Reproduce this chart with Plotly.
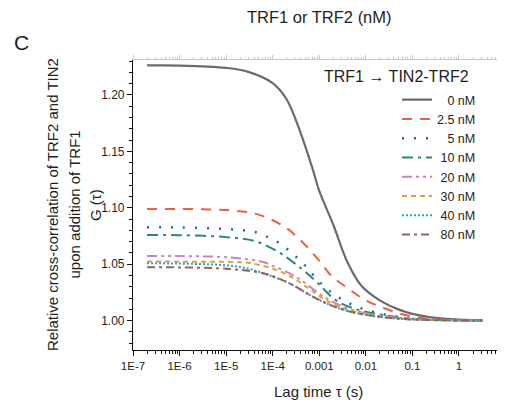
import plotly.graph_objects as go

# ---------------- data ----------------
series_names = ["0 nM", "2.5 nM", "5 nM", "10 nM", "20 nM", "30 nM", "40 nM", "80 nM"]

tau_0 = [2e-7, 1e-6, 1e-5, 3e-5, 1e-4, 2e-4, 4e-4, 7e-4, 1e-3, 2e-3, 4e-3, 8e-3, 2e-2, 5e-2, 0.1, 0.25, 1, 3.2]
g_0 = [1.2262, 1.2261, 1.2240, 1.2205, 1.2105, 1.1960, 1.1660, 1.1360, 1.1150, 1.0850, 1.0520, 1.0310,
       1.0180, 1.0100, 1.0060, 1.0030, 1.0010, 1.0005]

tau_2_5 = [2e-7, 1e-6, 1e-5, 4e-5, 1e-4, 2.3e-4, 5e-4, 1e-3, 1.8e-3, 4e-3, 1e-2, 2.5e-2, 7e-2, 0.2, 1, 3.2]
g_2_5 = [1.0990, 1.0990, 1.0980, 1.0950, 1.0890, 1.0800, 1.0670, 1.0530, 1.0400, 1.0290, 1.0180, 1.0110,
         1.0050, 1.0020, 1.0005, 1.0000]

tau_5 = [2e-7, 1e-6, 1.2e-5, 2.5e-5, 4.6e-5, 7.9e-5, 1.36e-4, 2.1e-4, 3.3e-4, 5.2e-4, 7.6e-4, 1.17e-3,
         1.83e-3, 3e-3, 5.2e-3, 9.5e-3, 2.5e-2, 7e-2, 0.3, 1, 3.2]
g_5 = [1.0828, 1.0827, 1.0810, 1.0800, 1.0780, 1.0740, 1.0690, 1.0630, 1.0560, 1.0480, 1.0400, 1.0320,
       1.0250, 1.0190, 1.0140, 1.0100, 1.0055, 1.0025, 1.0010, 1.0003, 1.0000]

tau_10 = [2e-7, 1e-6, 1.2e-5, 4.2e-5, 1.3e-4, 3.5e-4, 8.7e-4, 2.3e-3, 6.3e-3, 2e-2, 6e-2, 0.2, 1, 3.2]
g_10 = [1.0760, 1.0758, 1.0738, 1.0705, 1.0610, 1.0485, 1.0345, 1.0180, 1.0100, 1.0055, 1.0025, 1.0010,
        1.0003, 1.0000]

tau_20 = [2e-7, 1e-6, 1.2e-5, 6.2e-5, 1e-4, 2.3e-4, 4.2e-4, 8.7e-4, 1.7e-3, 3.5e-3, 1e-2, 3e-2, 0.1, 0.4, 3.2]
g_20 = [1.0573, 1.0572, 1.0560, 1.0520, 1.0485, 1.0420, 1.0354, 1.0257, 1.0180, 1.0120, 1.0065, 1.0035,
        1.0015, 1.0005, 1.0000]

tau_30 = [2e-7, 1e-6, 1.2e-5, 3.2e-5, 1.2e-4, 3.2e-4, 7.4e-4, 1.4e-3, 3.2e-3, 1e-2, 3e-2, 0.1, 0.4, 3.2]
g_30 = [1.0524, 1.0523, 1.0520, 1.0510, 1.0450, 1.0360, 1.0257, 1.0180, 1.0110, 1.0060, 1.0030, 1.0012,
        1.0004, 1.0000]

tau_40 = [2e-7, 1e-6, 1.2e-5, 3.2e-5, 8.7e-5, 2.3e-4, 6.3e-4, 1.7e-3, 4.6e-3, 1.5e-2, 5e-2, 0.2, 1, 3.2]
g_40 = [1.0508, 1.0506, 1.0488, 1.0457, 1.0400, 1.0330, 1.0227, 1.0140, 1.0080, 1.0040, 1.0018, 1.0006,
        1.0002, 1.0000]

tau_80 = [2e-7, 1e-6, 1.2e-5, 6.2e-5, 1.4e-4, 3.2e-4, 6.3e-4, 1.7e-3, 4.6e-3, 1.5e-2, 5e-2, 0.2, 1, 3.2]
g_80 = [1.0473, 1.0472, 1.0458, 1.0420, 1.0370, 1.0300, 1.0227, 1.0140, 1.0080, 1.0040, 1.0018, 1.0006,
        1.0002, 1.0000]

x_tick_vals = [1e-7, 1e-6, 1e-5, 1e-4, 1e-3, 1e-2, 1e-1, 1]
x_tick_text = ["1E-7", "1E-6", "1E-5", "1E-4", "0.001", "0.01", "0.1", "1"]
y_tick_vals = [1.00, 1.05, 1.10, 1.15, 1.20]

# ---------------- styling ----------------
# The page body has an 8px margin, so the figure is drawn 8px smaller and all
# positions below are given in window pixels, then shifted by OFF.
OFF = 8
W, H = 505 - OFF, 400 - OFF
PLOT_L, PLOT_R, PLOT_T, PLOT_B = 133, 503, 60, 350          # window pixels
ML, MR = PLOT_L - OFF, W - (PLOT_R - OFF)
MT, MB = PLOT_T - OFF, H - (PLOT_B - OFF)
PW, PH = PLOT_R - PLOT_L, PLOT_B - PLOT_T
FONT = "Liberation Sans, Arial, Helvetica, sans-serif"
TXT = "#231f20"


def px_x(x):
    return (x - PLOT_L) / PW


def px_y(y):
    return (PLOT_B - y) / PH


styles = [
    dict(color="#6b6b6e", dash="solid", width=2.2),
    dict(color="#ee5f44", dash="10px,8px", width=2),
    dict(color="#2068ad", dash="2px,10px", width=2.5),
    dict(color="#2a8a72", dash="11px,5px,3px,5px", width=2),
    dict(color="#c087c0", dash="10px,4px,3px,4px,3px,4px", width=2),
    dict(color="#dba53a", dash="5px,4px", width=2),
    dict(color="#22a2cb", dash="2px,2px", width=2),
    dict(color="#9a6157", dash="8px,4px,3px,4px", width=2),
]

# right-align legend labels with figure / punctuation spaces
legend_labels = [
    "\u2007\u2008" + series_names[0],
    series_names[1],
    "\u2007\u2008" + series_names[2],
    "\u2008" + series_names[3],
    "\u2008" + series_names[4],
    "\u2008" + series_names[5],
    "\u2008" + series_names[6],
    "\u2008" + series_names[7],
]

taus = [tau_0, tau_2_5, tau_5, tau_10, tau_20, tau_30, tau_40, tau_80]
gs = [g_0, g_2_5, g_5, g_10, g_20, g_30, g_40, g_80]

fig = go.Figure()
for i in range(8):
    fig.add_trace(go.Scatter(
        x=taus[i], y=gs[i], mode="lines", name=legend_labels[i],
        line=dict(color=styles[i]["color"], dash=styles[i]["dash"], width=styles[i]["width"],
                  shape="spline", smoothing=1.0),
    ))

x_range = [-7, 0.945]
y_range = [0.974, 1.231]
minor_x = [m * 10 ** e for e in range(-7, 1) for m in range(2, 10)]

fig.update_layout(
    width=W, height=H,
    margin=dict(l=ML, r=MR, t=MT, b=MB, autoexpand=False),
    paper_bgcolor="white", plot_bgcolor="white",
    font=dict(family=FONT, color=TXT),
    showlegend=True,
    legend=dict(
        x=px_x(397), y=px_y(85), xanchor="left", yanchor="top",
        bgcolor="rgba(0,0,0,0)", borderwidth=0,
        font=dict(size=12.5, family=FONT, color=TXT),
        itemwidth=30, tracegroupgap=0,
    ),
    xaxis=dict(
        type="log", range=x_range, showgrid=False, zeroline=False, automargin=False,
        showline=True, linecolor="#111", linewidth=1.2,
        ticks="outside", ticklen=5, tickwidth=1, tickcolor="#111",
        tickvals=x_tick_vals, ticktext=x_tick_text,
        tickfont=dict(size=11.5, family=FONT, color=TXT),
        minor=dict(ticks="outside", ticklen=3, tickwidth=1, tickcolor="#111", tickvals=minor_x),
    ),
    yaxis=dict(
        range=y_range, showgrid=False, zeroline=False, automargin=False,
        showline=True, linecolor="#111", linewidth=1.2,
        ticks="outside", ticklen=5, tickwidth=1, tickcolor="#111",
        tickvals=y_tick_vals, tickformat=".2f",
        tickfont=dict(size=12, family=FONT, color=TXT),
        minor=dict(ticks="outside", ticklen=3, tickwidth=1, tickcolor="#111", dtick=0.01),
    ),
    xaxis2=dict(
        type="log", range=x_range, overlaying="x", side="top", showgrid=False, zeroline=False,
        automargin=False,
        showline=True, linecolor="#c8c8c8", linewidth=1,
        ticks="outside", ticklen=4, tickcolor="#c8c8c8", tickvals=x_tick_vals, showticklabels=False,
        minor=dict(ticks="outside", ticklen=2, tickcolor="#c8c8c8", tickvals=minor_x),
    ),
    yaxis2=dict(
        range=y_range, overlaying="y", side="right", showgrid=False, zeroline=False,
        automargin=False,
        showline=True, linecolor="#c8c8c8", linewidth=1,
        ticks="inside", ticklen=4, tickcolor="#c8c8c8", tickvals=y_tick_vals, showticklabels=False,
        minor=dict(ticks="inside", ticklen=2, tickcolor="#c8c8c8", dtick=0.01),
    ),
)

# invisible helper trace so the mirror axes are drawn
fig.add_trace(go.Scatter(x=[tau_0[0]], y=[g_0[0]], xaxis="x2", yaxis="y2", mode="lines",
                         showlegend=False, hoverinfo="skip", line=dict(width=0)))

annos = [
    dict(text="C", x=px_x(21), y=px_y(42), size=21),
    dict(text="TRF1 or TRF2 (nM)", x=px_x(319), y=px_y(17), size=16.5),
    dict(text="TRF1 \u2192 TIN2-TRF2", x=px_x(396.5), y=px_y(76), size=16),
    dict(text="Relative cross-correlation of TRF2 and TIN2", x=px_x(52), y=px_y(205), size=15, angle=-90),
    dict(text="upon addition of TRF1", x=px_x(73.5), y=px_y(205), size=15, angle=-90),
    dict(text="G (\u03c4)", x=px_x(95), y=px_y(205), size=15, angle=-90),
    dict(text="Lag time \u03c4 (s)", x=px_x(318), y=px_y(391), size=15),
]
for a in annos:
    fig.add_annotation(
        text=a["text"], x=a["x"], y=a["y"], xref="paper", yref="paper",
        xanchor="center", yanchor="middle", showarrow=False,
        textangle=a.get("angle", 0),
        font=dict(size=a["size"], family=FONT, color=TXT),
    )

fig.write_html("out.html")
